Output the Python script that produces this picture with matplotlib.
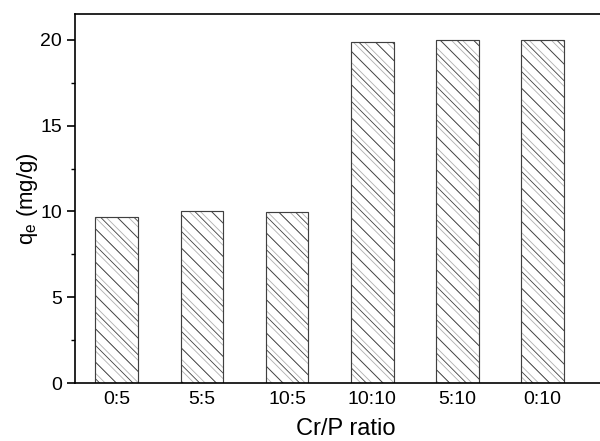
import matplotlib
matplotlib.use('Agg')
import matplotlib.pyplot as plt
from matplotlib.ticker import MultipleLocator

ratios = ['0:5', '5:5', '10:5', '10:10', '5:10', '0:10']
qe = [9.65, 10.0, 9.95, 19.85, 19.97, 19.97]

plt.rcParams['font.family'] = ['Liberation Sans', 'DejaVu Sans']
plt.rcParams['hatch.linewidth'] = 0.6

fig = plt.figure(figsize=(6, 4.41), dpi=100)
# the original frame runs past the right edge of the image
ax = fig.add_axes([0.125, 0.1315, 0.903, 0.8365])

x = range(len(ratios))
# light dotted-looking hatch underneath, sparse dark hatch on top
ax.bar(x, qe, width=0.5, color='white', edgecolor='#b0b0b0',
       linewidth=0.8, hatch='\\\\\\')
ax.bar(x, qe, width=0.5, fill=False, edgecolor='#404040',
       linewidth=0.8, hatch='\\\\')

ax.set_xlim(-0.49, 5.87)
ax.set_ylim(0, 21.5)
ax.set_xticks(list(x))
ax.set_xticklabels(ratios)
ax.yaxis.set_major_locator(MultipleLocator(5))
ax.yaxis.set_minor_locator(MultipleLocator(2.5))

ax.tick_params(axis='y', which='major', direction='out', length=6, width=1.2, labelsize=14)
ax.tick_params(axis='y', which='minor', direction='out', length=3, width=1.0)
ax.tick_params(axis='x', length=0, labelsize=14, pad=6)

for side in ['left', 'bottom', 'top']:
    ax.spines[side].set_linewidth(1.2)
ax.spines['right'].set_visible(False)

ax.set_xlabel('Cr/P ratio', fontsize=17, labelpad=7)
ax.set_ylabel('q$_\\mathregular{e}$ (mg/g)', fontsize=16, labelpad=0)

fig.savefig('out.png', dpi=100)
